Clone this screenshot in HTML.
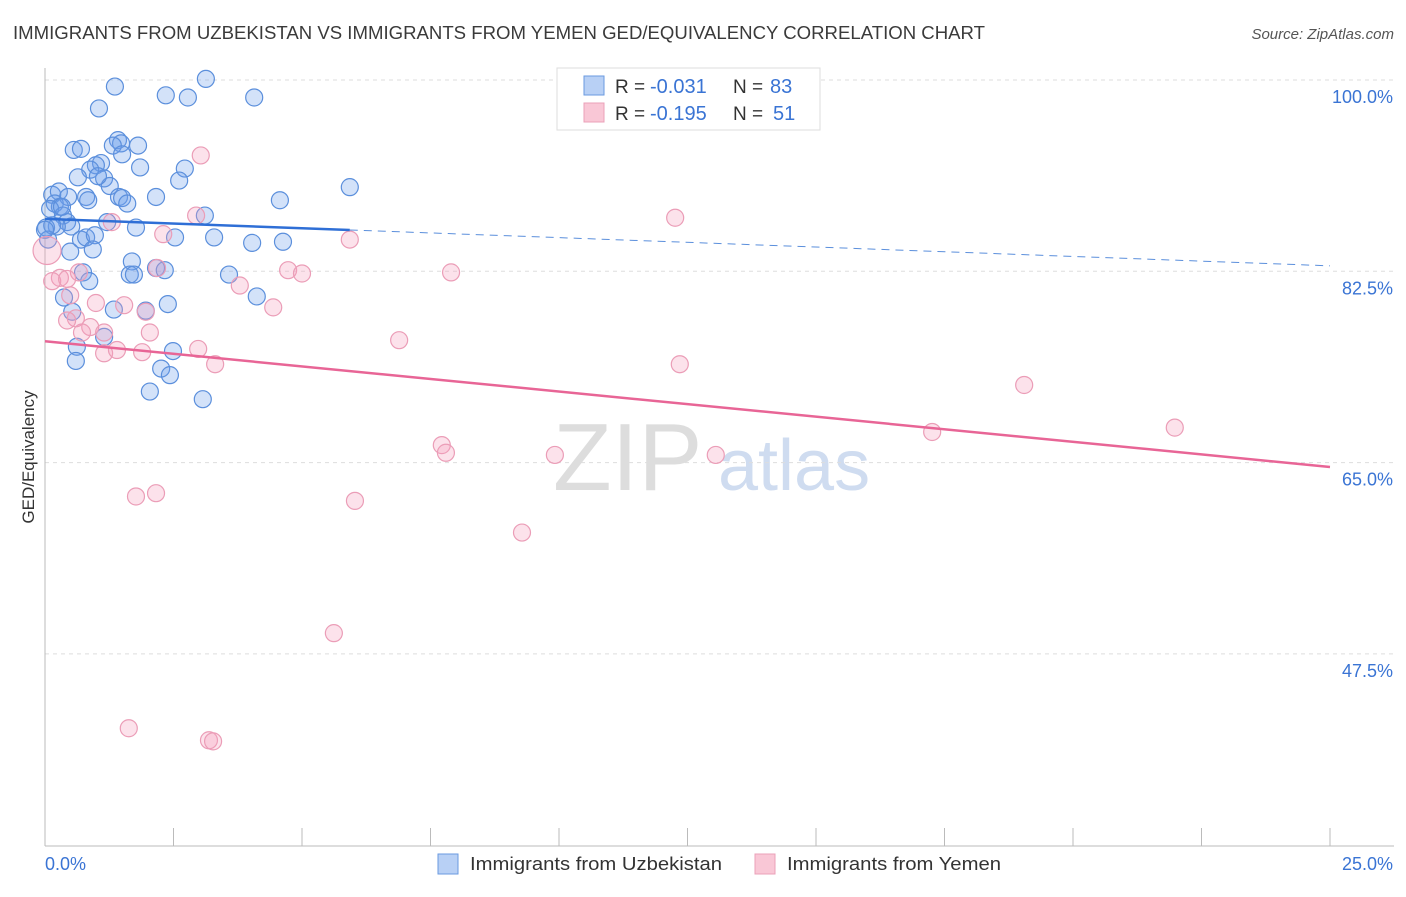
<!DOCTYPE html>
<html><head><meta charset="utf-8"><style>
body{margin:0;background:#fff;font-family:"Liberation Sans",sans-serif;}
svg text{font-family:"Liberation Sans",sans-serif;}
</style></head><body>
<svg id="chart" width="1406" height="892" viewBox="0 0 1406 892" xmlns="http://www.w3.org/2000/svg">
<text x="13" y="39" font-size="18" fill="#3a3a3a" textLength="972" lengthAdjust="spacingAndGlyphs">IMMIGRANTS FROM UZBEKISTAN VS IMMIGRANTS FROM YEMEN GED/EQUIVALENCY CORRELATION CHART</text>
<text x="1394" y="39" font-size="15" fill="#555" font-style="italic" text-anchor="end">Source: ZipAtlas.com</text>
<g>
<text x="553" y="490" font-size="96" fill="#ddd" font-family="Liberation Serif,serif">ZIP</text>
<text x="718" y="490" font-size="72" fill="#cfdcf0">atlas</text>
</g>
<g id="grid"></g>
<g id="axes"></g>
<g id="pts"></g>
<g id="trend"></g>
<text transform="translate(34,457) rotate(-90)" font-size="17" fill="#333" text-anchor="middle">GED/Equivalency</text>
<g>
<rect x="557" y="68" width="263" height="62" fill="#fff" stroke="#ddd"/>
<rect x="584" y="76" width="20" height="19" fill="#b8d0f5" stroke="#6a9ae0"/>
<rect x="584" y="103" width="20" height="19" fill="#f9c7d6" stroke="#eba0b8"/>
<text x="615" y="93" font-size="19" fill="#333">R =</text>
<text x="650" y="93" font-size="20" fill="#3a74d4">-0.031</text>
<text x="733" y="93" font-size="19" fill="#333">N =</text>
<text x="770" y="93" font-size="20" fill="#3a74d4">83</text>
<text x="615" y="120" font-size="19" fill="#333">R =</text>
<text x="650" y="120" font-size="20" fill="#3a74d4">-0.195</text>
<text x="733" y="120" font-size="19" fill="#333">N =</text>
<text x="773" y="120" font-size="20" fill="#3a74d4">51</text>
</g>
<g>
<rect x="438" y="854" width="20" height="20" fill="#b8d0f5" stroke="#6a9ae0"/>
<text x="470" y="870" font-size="18" fill="#333" textLength="252" lengthAdjust="spacingAndGlyphs">Immigrants from Uzbekistan</text>
<rect x="755" y="854" width="20" height="20" fill="#f9c7d6" stroke="#eba0b8"/>
<text x="787" y="870" font-size="18" fill="#333" textLength="214" lengthAdjust="spacingAndGlyphs">Immigrants from Yemen</text>
</g>
</svg>
<script>
const yTicks=[100,82.5,65,47.5];
const yTickLabels=["100.0%","82.5%","65.0%","47.5%"];
const xTicks=[0,2.5,5,7.5,10,12.5,15,17.5,20,22.5,25];
const xEndLabels=["0.0%","25.0%"];
const blueX=[1.36,3.13,2.35,2.78,4.07,1.05,0.56,0.70,1.42,1.48,1.32,1.81,1.50,1.09,0.99,0.88,1.85,2.72,2.61,0.64,1.15,1.26,1.03,0.14,0.27,0.45,0.80,0.84,1.44,1.50,1.60,2.16,4.57,5.93,0.19,0.29,0.10,0.35,0.43,0.51,0.23,0.02,0.14,1.21,1.77,3.11,2.53,3.29,4.03,4.63,0.70,0.80,0.97,0.93,0.49,1.69,1.65,1.73,2.16,2.33,3.58,4.12,0.74,0.86,0.37,0.53,1.34,1.96,2.39,0.62,2.49,0.60,2.26,2.43,2.04,3.07,1.15,0.06,0.0,0.33];
const blueY=[99.4,100.1,98.6,98.4,98.4,97.4,93.6,93.7,94.5,94.2,94.0,94.0,93.2,92.4,92.2,91.8,92.0,91.9,90.8,91.1,91.0,90.3,91.2,89.5,89.8,89.3,89.3,89.0,89.3,89.2,88.7,89.3,89.0,90.2,88.7,88.4,88.2,87.6,87.0,86.6,86.6,86.5,86.7,87.0,86.5,87.6,85.6,85.6,85.1,85.2,85.4,85.6,85.8,84.5,84.3,83.4,82.2,82.2,82.8,82.6,82.2,80.2,82.4,81.6,80.1,78.8,79.0,78.9,79.5,75.6,75.2,74.3,73.6,73.0,71.5,70.8,76.5,85.4,86.3,88.4];
const pinkX=[3.03,12.26,2.94,1.30,2.30,5.93,0.04,0.29,0.14,0.43,0.66,2.18,4.73,5.00,7.90,3.79,4.44,0.49,0.99,1.54,1.96,0.60,0.43,0.88,1.15,0.72,2.04,6.89,1.15,1.40,1.89,2.98,3.31,12.35,19.05,17.26,21.98,7.72,7.80,9.92,13.05,1.77,2.16,6.03,9.28,5.62,1.63,3.19,3.27];
const pinkY=[93.1,87.4,87.6,87.0,85.9,85.4,84.4,81.9,81.6,81.8,82.4,82.8,82.6,82.3,82.4,81.2,79.2,80.3,79.6,79.4,78.8,78.2,78.0,77.4,76.9,76.9,76.9,76.2,75.0,75.3,75.1,75.4,74.0,74.0,72.1,67.8,68.2,66.6,65.9,65.7,65.7,61.9,62.2,61.5,58.6,49.4,40.7,39.6,39.5];
const blueTrend=[87.3,83.0];
const pinkTrend=[76.1,64.6];
const blueSolidEnd=5.93;

const X0=45,X1=1330,Y100=80,PPU=191.3/17.5;
const sx=v=>X0+(v/25)*(X1-X0);
const sy=v=>Y100+(100-v)*PPU;
const NS="http://www.w3.org/2000/svg";
function mk(tag,attrs,parent){const e=document.createElementNS(NS,tag);for(const k in attrs)e.setAttribute(k,attrs[k]);parent.appendChild(e);return e;}
const grid=document.getElementById('grid'),axes=document.getElementById('axes'),pts=document.getElementById('pts'),trend=document.getElementById('trend');
yTicks.forEach((t,i)=>{
 const l=mk('line',{x1:X0,x2:1394,y1:sy(t),y2:sy(t),stroke:'#ddd','stroke-dasharray':'4,4'},grid);
 
 
 const tx=mk('text',{x:1393,y:sy(t)+23,'font-size':18,fill:'#3a74d4','text-anchor':'end'},grid);
 tx.textContent=yTickLabels[i];
 
 
});
const ya=mk('line',{x1:X0,x2:X0,y1:68,y2:846,stroke:'#bbb'},axes);


const xa=mk('line',{x1:X0,x2:1394,y1:846,y2:846,stroke:'#bbb'},axes);


xTicks.forEach(t=>{
 const l=mk('line',{x1:sx(t),x2:sx(t),y1:828,y2:846,stroke:'#bbb'},axes);
 
 
});
const xl0=mk('text',{x:45,y:870,'font-size':18,fill:'#3a74d4'},axes);xl0.textContent=xEndLabels[0];


const xl1=mk('text',{x:1393,y:870,'font-size':18,fill:'#3a74d4','text-anchor':'end'},axes);xl1.textContent=xEndLabels[1];


blueX.forEach((x,i)=>{
 const c=mk('circle',{cx:sx(x),cy:sy(blueY[i]),r:8.5,fill:'rgba(110,160,235,0.3)',stroke:'#5b8fdc','stroke-width':1.2},pts);
 
 
});
pinkX.forEach((x,i)=>{
 const c=mk('circle',{cx:sx(x),cy:sy(pinkY[i]),r:(i===6?14:8.5),fill:'rgba(245,160,190,0.3)',stroke:'#eb9db7','stroke-width':1.2},pts);
 
 
});
const by=x=>blueTrend[0]+(blueTrend[1]-blueTrend[0])*x/25;
const b1=mk('line',{x1:sx(0),y1:sy(by(0)),x2:sx(blueSolidEnd),y2:sy(by(blueSolidEnd)),stroke:'#2f6fd6','stroke-width':2.5},trend);


const b2=mk('line',{x1:sx(blueSolidEnd),y1:sy(by(blueSolidEnd)),x2:sx(25),y2:sy(by(25)),stroke:'#5b8fdc','stroke-width':1,'stroke-dasharray':'8,6'},trend);


const p1=mk('line',{x1:sx(0),y1:sy(pinkTrend[0]),x2:sx(25),y2:sy(pinkTrend[1]),stroke:'#e86596','stroke-width':2.5},trend);


</script>
</body></html>
